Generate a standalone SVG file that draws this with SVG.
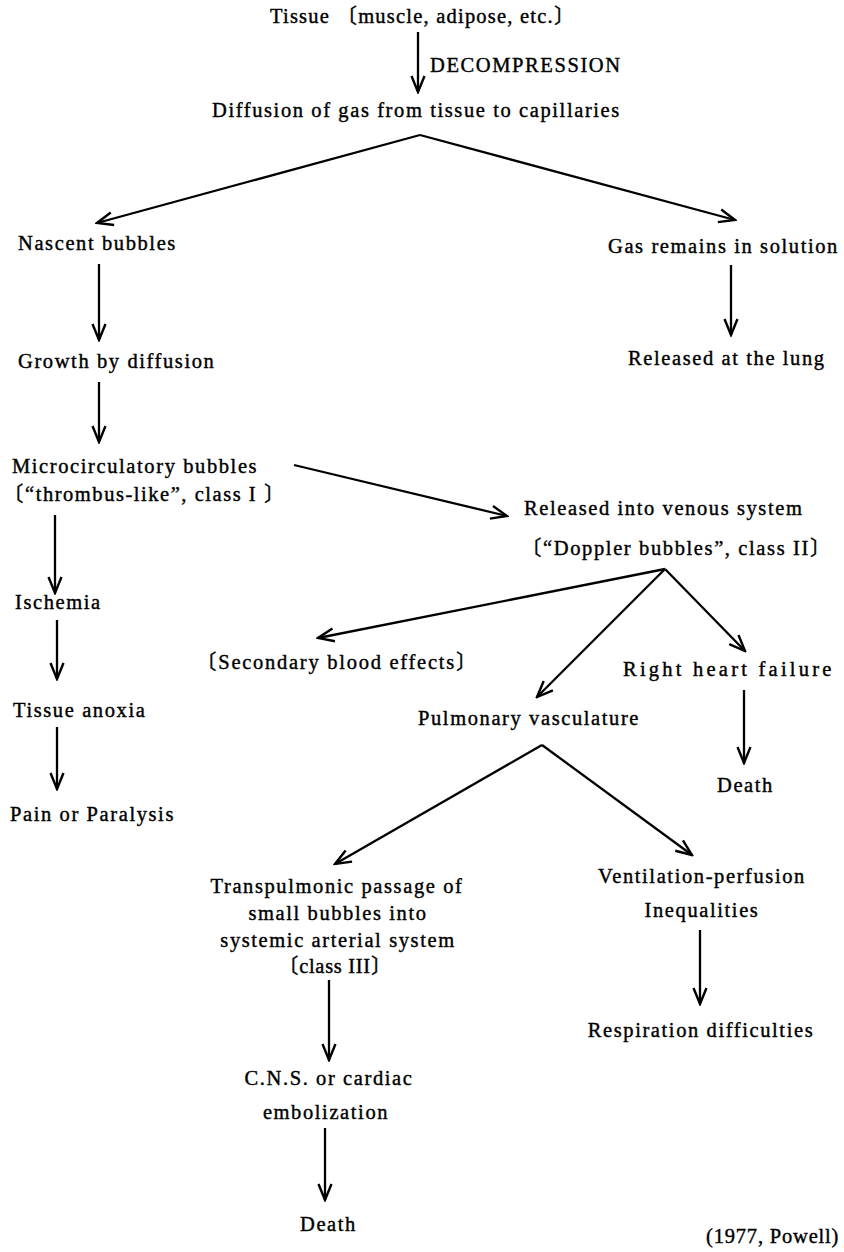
<svg xmlns="http://www.w3.org/2000/svg" width="844" height="1252" viewBox="0 0 844 1252">
<defs>
<marker id="ah" markerUnits="userSpaceOnUse" markerWidth="20" markerHeight="20" viewBox="-18 -8 20 16" refX="0" refY="0" orient="auto">
<path d="M-16,-6.5 L0,0 L-16,6.5" fill="none" stroke="#000" stroke-width="2.4" stroke-linejoin="miter"/>
</marker>
</defs>
<style>
text{font-family:"Liberation Serif","Noto Sans CJK JP",serif;font-size:20.5px;letter-spacing:1.6px;fill:#000;stroke:#000;stroke-width:0.4px}
.c{stroke:#000;stroke-width:2.3;fill:none;marker-end:url(#ah)}
.m{text-anchor:middle}
.e{text-anchor:end}
</style>
<rect width="844" height="1252" fill="#fff"/>
<g id="connectors">
<line class="c" x1="418" y1="32" x2="418" y2="92"/>
<line class="c" x1="420" y1="135" x2="97" y2="223"/>
<line class="c" x1="420" y1="135" x2="735" y2="220"/>
<line class="c" x1="99" y1="264" x2="99" y2="340"/>
<line class="c" x1="731" y1="265" x2="731" y2="335"/>
<line class="c" x1="99" y1="382" x2="99" y2="442"/>
<line class="c" x1="294" y1="465" x2="507" y2="516"/>
<line class="c" x1="55" y1="515" x2="55" y2="593"/>
<line class="c" x1="665" y1="569" x2="318" y2="638"/>
<line class="c" x1="665" y1="569" x2="537" y2="697"/>
<line class="c" x1="665" y1="569" x2="745" y2="651"/>
<line class="c" x1="57" y1="620" x2="57" y2="679"/>
<line class="c" x1="744" y1="690" x2="744" y2="763"/>
<line class="c" x1="57" y1="727" x2="57" y2="789"/>
<line class="c" x1="542" y1="745" x2="335" y2="864"/>
<line class="c" x1="542" y1="745" x2="692" y2="855"/>
<line class="c" x1="700" y1="930" x2="700" y2="1004"/>
<line class="c" x1="329" y1="980" x2="329" y2="1060"/>
<line class="c" x1="325" y1="1128" x2="325" y2="1200"/>
</g>
<g id="n_tissue"><text x="270" y="23" textLength="306" lengthAdjust="spacing">Tissue 〔muscle, adipose, etc.〕</text></g>
<g id="l_decomp"><text x="430" y="72">DECOMPRESSION</text></g>
<g id="n_diffusion"><text x="212" y="117">Diffusion of gas from tissue to capillaries</text></g>
<g id="n_nascent"><text x="18" y="250">Nascent bubbles</text></g>
<g id="n_solution"><text x="608" y="253">Gas remains in solution</text></g>
<g id="n_growth"><text x="18" y="368">Growth by diffusion</text></g>
<g id="n_lung"><text x="628" y="365">Released at the lung</text></g>
<g id="n_micro"><text x="12" y="473">Microcirculatory bubbles</text><text x="3" y="501" textLength="283" lengthAdjust="spacing">〔“thrombus-like”, class I 〕</text></g>
<g id="n_venous"><text x="524" y="515">Released into venous system</text><text x="521" y="555" textLength="311" lengthAdjust="spacing">〔“Doppler bubbles”, class II〕</text></g>
<g id="n_ischemia"><text x="15" y="609">Ischemia</text></g>
<g id="n_secondary"><text x="196" y="669" textLength="282" lengthAdjust="spacing">〔Secondary blood effects〕</text></g>
<g id="n_rhf"><text x="623" y="676" textLength="210" lengthAdjust="spacing">Right heart failure</text></g>
<g id="n_pulm"><text x="418" y="725">Pulmonary vasculature</text></g>
<g id="n_anoxia"><text x="13" y="717">Tissue anoxia</text></g>
<g id="n_death1"><text x="717" y="792">Death</text></g>
<g id="n_pain"><text x="10" y="821">Pain or Paralysis</text></g>
<g id="n_transpulm">
<text class="m" x="337" y="893">Transpulmonic passage of</text>
<text class="m" x="338" y="920">small bubbles into</text>
<text class="m" x="338" y="947">systemic arterial system</text>
<text x="278" y="973" textLength="115" lengthAdjust="spacing">〔class III〕</text>
</g>
<g id="n_vq"><text class="m" x="702" y="883">Ventilation-perfusion</text><text class="m" x="702" y="917">Inequalities</text></g>
<g id="n_resp"><text class="m" x="701" y="1037">Respiration difficulties</text></g>
<g id="n_cns"><text class="m" x="329" y="1085">C.N.S. or cardiac</text><text class="m" x="326" y="1119">embolization</text></g>
<g id="n_death2"><text x="300" y="1231">Death</text></g>
<g id="caption"><text x="706" y="1243" textLength="134" lengthAdjust="spacing">(1977, Powell)</text></g>
</svg>
